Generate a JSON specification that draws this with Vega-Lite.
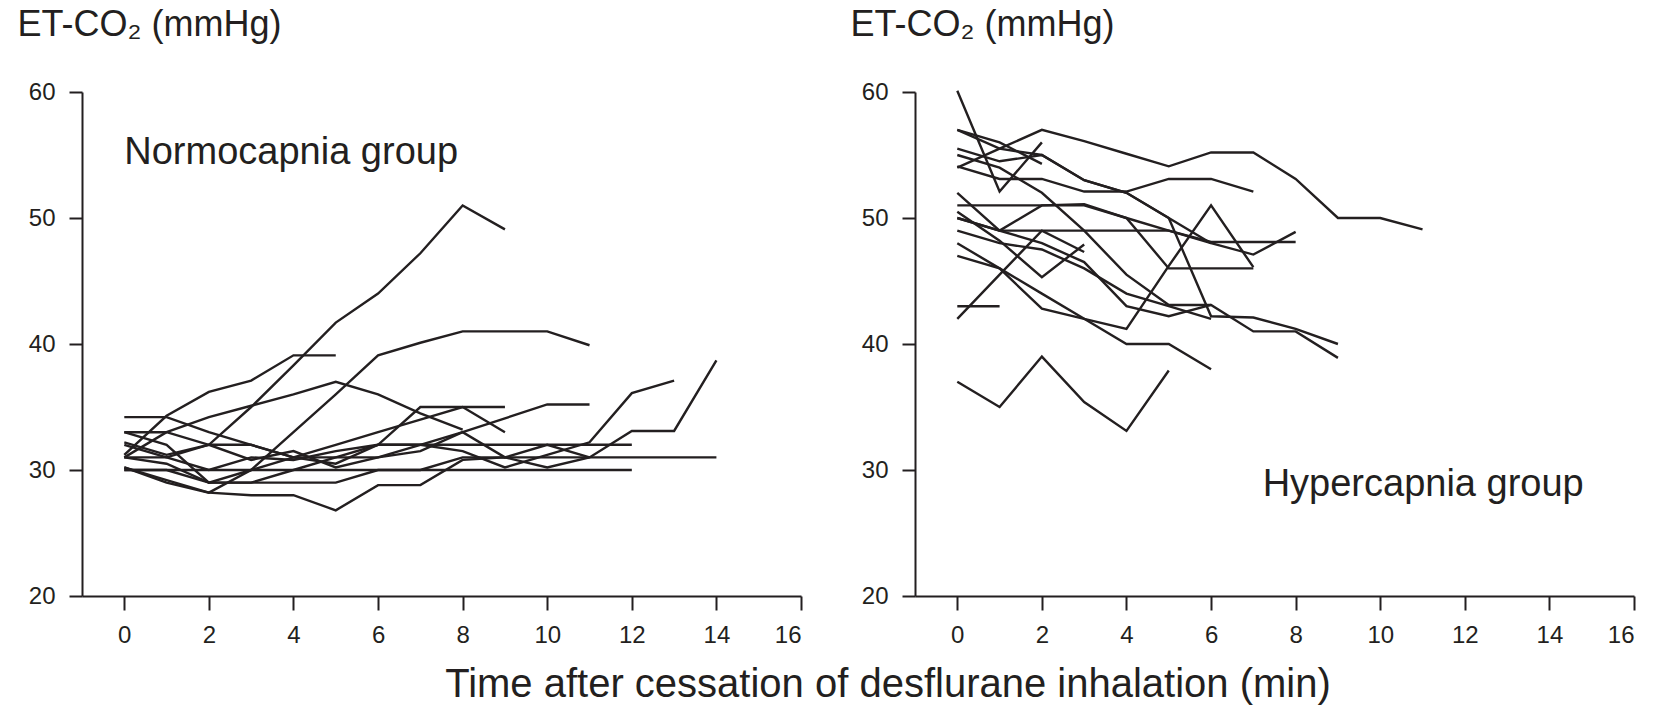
{
 "$schema": "https://vega.github.io/schema/vega-lite/v6.json",
 "background": "white",
 "padding": {"left": 17, "top": 6, "right": 20, "bottom": 5},
 "title": {"text": "Time after cessation of desflurane inhalation (min)", "orient": "bottom", "anchor": "middle", "fontSize": 40, "font": "Liberation Sans", "fontWeight": "normal", "color": "#231f20", "offset": 18, "dx": 62},
 "spacing": 114,
 "bounds": "flush",
 "config": {
  "view": {"stroke": null},
  "axis": {"grid": false, "domainColor": "#231f20", "domainWidth": 2, "tickColor": "#231f20", "tickWidth": 2, "labelFont": "Liberation Sans", "labelFontSize": 24, "labelColor": "#231f20", "titleFont": "Liberation Sans", "titleFontWeight": "normal", "titleColor": "#231f20"}
 },
 "datasets": {
  "labels": [
   {"g": "N", "t": 0, "v": 54.3, "label": "Normocapnia group"},
   {"g": "H", "t": 7.22, "v": 27.9, "label": "Hypercapnia group"}
  ],
  "lines": [
   {"g":"N","id":"N1","t":0,"v":31},{"g":"N","id":"N1","t":1,"v":31},{"g":"N","id":"N1","t":2,"v":32},{"g":"N","id":"N1","t":3,"v":35},{"g":"N","id":"N1","t":4,"v":38.3},{"g":"N","id":"N1","t":5,"v":41.7},{"g":"N","id":"N1","t":6,"v":44},{"g":"N","id":"N1","t":7,"v":47.2},{"g":"N","id":"N1","t":8,"v":51},{"g":"N","id":"N1","t":9,"v":49.1},
   {"g":"N","id":"N2","t":0,"v":30.2},{"g":"N","id":"N2","t":1,"v":29},{"g":"N","id":"N2","t":2,"v":28.2},{"g":"N","id":"N2","t":3,"v":30},{"g":"N","id":"N2","t":4,"v":33},{"g":"N","id":"N2","t":5,"v":36},{"g":"N","id":"N2","t":6,"v":39.1},{"g":"N","id":"N2","t":7,"v":40.1},{"g":"N","id":"N2","t":8,"v":41},{"g":"N","id":"N2","t":9,"v":41},{"g":"N","id":"N2","t":10,"v":41},{"g":"N","id":"N2","t":11,"v":39.9},
   {"g":"N","id":"N3","t":0,"v":31.2},{"g":"N","id":"N3","t":1,"v":34.3},{"g":"N","id":"N3","t":2,"v":36.2},{"g":"N","id":"N3","t":3,"v":37.1},{"g":"N","id":"N3","t":4,"v":39.1},{"g":"N","id":"N3","t":5,"v":39.1},
   {"g":"N","id":"N4","t":0,"v":30.2},{"g":"N","id":"N4","t":1,"v":29.2},{"g":"N","id":"N4","t":2,"v":28.2},{"g":"N","id":"N4","t":3,"v":28},{"g":"N","id":"N4","t":4,"v":28},{"g":"N","id":"N4","t":5,"v":26.8},{"g":"N","id":"N4","t":6,"v":28.8},{"g":"N","id":"N4","t":7,"v":28.8},{"g":"N","id":"N4","t":8,"v":30.8},{"g":"N","id":"N4","t":9,"v":31},{"g":"N","id":"N4","t":10,"v":30.2},{"g":"N","id":"N4","t":11,"v":31},{"g":"N","id":"N4","t":12,"v":33.1},{"g":"N","id":"N4","t":13,"v":33.1},{"g":"N","id":"N4","t":14,"v":38.7},
   {"g":"N","id":"N5","t":0,"v":31},{"g":"N","id":"N5","t":1,"v":30.5},{"g":"N","id":"N5","t":2,"v":29},{"g":"N","id":"N5","t":3,"v":29},{"g":"N","id":"N5","t":4,"v":30},{"g":"N","id":"N5","t":5,"v":31},{"g":"N","id":"N5","t":6,"v":32},{"g":"N","id":"N5","t":7,"v":32},{"g":"N","id":"N5","t":8,"v":31.5},{"g":"N","id":"N5","t":9,"v":30.2},{"g":"N","id":"N5","t":10,"v":31.2},{"g":"N","id":"N5","t":11,"v":32.2},{"g":"N","id":"N5","t":12,"v":36.1},{"g":"N","id":"N5","t":13,"v":37.1},
   {"g":"N","id":"N6","t":0,"v":33},{"g":"N","id":"N6","t":1,"v":33},{"g":"N","id":"N6","t":2,"v":32},{"g":"N","id":"N6","t":3,"v":32},{"g":"N","id":"N6","t":4,"v":31},{"g":"N","id":"N6","t":5,"v":31},{"g":"N","id":"N6","t":6,"v":31},{"g":"N","id":"N6","t":7,"v":32},{"g":"N","id":"N6","t":8,"v":33},{"g":"N","id":"N6","t":9,"v":34.1},{"g":"N","id":"N6","t":10,"v":35.2},{"g":"N","id":"N6","t":11,"v":35.2},
   {"g":"N","id":"N7","t":0,"v":34.2},{"g":"N","id":"N7","t":1,"v":34.2},{"g":"N","id":"N7","t":2,"v":33},{"g":"N","id":"N7","t":3,"v":32},{"g":"N","id":"N7","t":4,"v":31},{"g":"N","id":"N7","t":5,"v":30.5},{"g":"N","id":"N7","t":6,"v":32},{"g":"N","id":"N7","t":7,"v":35},{"g":"N","id":"N7","t":8,"v":35},{"g":"N","id":"N7","t":9,"v":35},
   {"g":"N","id":"N8","t":0,"v":32},{"g":"N","id":"N8","t":1,"v":31},{"g":"N","id":"N8","t":2,"v":30},{"g":"N","id":"N8","t":3,"v":31},{"g":"N","id":"N8","t":4,"v":30.8},{"g":"N","id":"N8","t":5,"v":31.5},{"g":"N","id":"N8","t":6,"v":32},{"g":"N","id":"N8","t":12,"v":32},
   {"g":"N","id":"N9","t":0,"v":30},{"g":"N","id":"N9","t":1,"v":30},{"g":"N","id":"N9","t":2,"v":29},{"g":"N","id":"N9","t":5,"v":29},{"g":"N","id":"N9","t":6,"v":30},{"g":"N","id":"N9","t":7,"v":30},{"g":"N","id":"N9","t":8,"v":31},{"g":"N","id":"N9","t":14,"v":31},
   {"g":"N","id":"N10","t":0,"v":30},{"g":"N","id":"N10","t":12,"v":30},
   {"g":"N","id":"N11","t":0,"v":31},{"g":"N","id":"N11","t":1,"v":33},{"g":"N","id":"N11","t":2,"v":34.2},{"g":"N","id":"N11","t":3,"v":35.1},{"g":"N","id":"N11","t":4,"v":36},{"g":"N","id":"N11","t":5,"v":37},{"g":"N","id":"N11","t":6,"v":36},{"g":"N","id":"N11","t":7,"v":34.5},{"g":"N","id":"N11","t":8,"v":33.2},
   {"g":"N","id":"N12","t":0,"v":33},{"g":"N","id":"N12","t":1,"v":32},{"g":"N","id":"N12","t":2,"v":29},{"g":"N","id":"N12","t":3,"v":30},{"g":"N","id":"N12","t":4,"v":31},{"g":"N","id":"N12","t":5,"v":32},{"g":"N","id":"N12","t":6,"v":33},{"g":"N","id":"N12","t":7,"v":34},{"g":"N","id":"N12","t":8,"v":35},{"g":"N","id":"N12","t":9,"v":33},
   {"g":"N","id":"N13","t":0,"v":32.2},{"g":"N","id":"N13","t":1,"v":31.2},{"g":"N","id":"N13","t":2,"v":32},{"g":"N","id":"N13","t":3,"v":30.8},{"g":"N","id":"N13","t":4,"v":31.5},{"g":"N","id":"N13","t":5,"v":30.2},{"g":"N","id":"N13","t":6,"v":31},{"g":"N","id":"N13","t":7,"v":31.5},{"g":"N","id":"N13","t":8,"v":33},{"g":"N","id":"N13","t":9,"v":31},{"g":"N","id":"N13","t":10,"v":32},{"g":"N","id":"N13","t":11,"v":31},
   {"g":"H","id":"H1","t":0,"v":54},{"g":"H","id":"H1","t":1,"v":55.5},{"g":"H","id":"H1","t":2,"v":57},{"g":"H","id":"H1","t":3,"v":56.1},{"g":"H","id":"H1","t":4,"v":55.1},{"g":"H","id":"H1","t":5,"v":54.1},{"g":"H","id":"H1","t":6,"v":55.2},{"g":"H","id":"H1","t":7,"v":55.2},{"g":"H","id":"H1","t":8,"v":53.1},{"g":"H","id":"H1","t":9,"v":50},{"g":"H","id":"H1","t":10,"v":50},{"g":"H","id":"H1","t":11,"v":49.1},
   {"g":"H","id":"H2","t":0,"v":54.1},{"g":"H","id":"H2","t":1,"v":53.1},{"g":"H","id":"H2","t":2,"v":53.1},{"g":"H","id":"H2","t":3,"v":52.1},{"g":"H","id":"H2","t":4,"v":52.1},{"g":"H","id":"H2","t":5,"v":53.1},{"g":"H","id":"H2","t":6,"v":53.1},{"g":"H","id":"H2","t":7,"v":52.1},
   {"g":"H","id":"H3","t":0,"v":60.1},{"g":"H","id":"H3","t":1,"v":52.1},{"g":"H","id":"H3","t":2,"v":56},
   {"g":"H","id":"H4","t":0,"v":57},{"g":"H","id":"H4","t":1,"v":56},{"g":"H","id":"H4","t":2,"v":54.3},
   {"g":"H","id":"H5","t":0,"v":57},{"g":"H","id":"H5","t":1,"v":55.5},{"g":"H","id":"H5","t":2,"v":55},{"g":"H","id":"H5","t":3,"v":53},{"g":"H","id":"H5","t":4,"v":52},{"g":"H","id":"H5","t":5,"v":50},{"g":"H","id":"H5","t":6,"v":42.2},{"g":"H","id":"H5","t":7,"v":42.1},{"g":"H","id":"H5","t":8,"v":41.2},{"g":"H","id":"H5","t":9,"v":40},
   {"g":"H","id":"H6","t":0,"v":55},{"g":"H","id":"H6","t":1,"v":54},{"g":"H","id":"H6","t":2,"v":52},{"g":"H","id":"H6","t":3,"v":49},{"g":"H","id":"H6","t":4,"v":45.5},{"g":"H","id":"H6","t":5,"v":43.1},{"g":"H","id":"H6","t":6,"v":43.1},{"g":"H","id":"H6","t":7,"v":41},{"g":"H","id":"H6","t":8,"v":41},{"g":"H","id":"H6","t":9,"v":38.9},
   {"g":"H","id":"H7","t":0,"v":47},{"g":"H","id":"H7","t":1,"v":46},{"g":"H","id":"H7","t":2,"v":42.8},{"g":"H","id":"H7","t":3,"v":42},{"g":"H","id":"H7","t":4,"v":41.2},{"g":"H","id":"H7","t":5,"v":46.2},{"g":"H","id":"H7","t":6,"v":51},{"g":"H","id":"H7","t":7,"v":46.1},
   {"g":"H","id":"H8","t":0,"v":43},{"g":"H","id":"H8","t":1,"v":43},
   {"g":"H","id":"H9","t":0,"v":37},{"g":"H","id":"H9","t":1,"v":35},{"g":"H","id":"H9","t":2,"v":39},{"g":"H","id":"H9","t":3,"v":35.4},{"g":"H","id":"H9","t":4,"v":33.1},{"g":"H","id":"H9","t":5,"v":37.9},
   {"g":"H","id":"H10","t":0,"v":48},{"g":"H","id":"H10","t":1,"v":46},{"g":"H","id":"H10","t":2,"v":44},{"g":"H","id":"H10","t":3,"v":42},{"g":"H","id":"H10","t":4,"v":40},{"g":"H","id":"H10","t":5,"v":40},{"g":"H","id":"H10","t":6,"v":38},
   {"g":"H","id":"H11","t":0,"v":51},{"g":"H","id":"H11","t":1,"v":51},{"g":"H","id":"H11","t":2,"v":51},{"g":"H","id":"H11","t":3,"v":51.1},{"g":"H","id":"H11","t":4,"v":50},{"g":"H","id":"H11","t":5,"v":46},{"g":"H","id":"H11","t":6,"v":46},{"g":"H","id":"H11","t":7,"v":46},
   {"g":"H","id":"H12","t":0,"v":50},{"g":"H","id":"H12","t":1,"v":49},{"g":"H","id":"H12","t":2,"v":49},{"g":"H","id":"H12","t":3,"v":49},{"g":"H","id":"H12","t":4,"v":49},{"g":"H","id":"H12","t":5,"v":49},{"g":"H","id":"H12","t":6,"v":48.1},{"g":"H","id":"H12","t":7,"v":48.1},{"g":"H","id":"H12","t":8,"v":48.1},
   {"g":"H","id":"H13","t":0,"v":52},{"g":"H","id":"H13","t":1,"v":49},{"g":"H","id":"H13","t":2,"v":48},{"g":"H","id":"H13","t":3,"v":46.5},{"g":"H","id":"H13","t":4,"v":43},{"g":"H","id":"H13","t":5,"v":42.2},{"g":"H","id":"H13","t":6,"v":43.1},
   {"g":"H","id":"H14","t":0,"v":49},{"g":"H","id":"H14","t":1,"v":48},{"g":"H","id":"H14","t":2,"v":47.5},{"g":"H","id":"H14","t":3,"v":46},{"g":"H","id":"H14","t":4,"v":44},{"g":"H","id":"H14","t":5,"v":43},{"g":"H","id":"H14","t":6,"v":42},
   {"g":"H","id":"H15","t":0,"v":50},{"g":"H","id":"H15","t":1,"v":49},{"g":"H","id":"H15","t":2,"v":51},{"g":"H","id":"H15","t":3,"v":51},{"g":"H","id":"H15","t":4,"v":50},{"g":"H","id":"H15","t":5,"v":49},{"g":"H","id":"H15","t":6,"v":48},{"g":"H","id":"H15","t":7,"v":47.1},{"g":"H","id":"H15","t":8,"v":48.9},
   {"g":"H","id":"H16","t":0,"v":42},{"g":"H","id":"H16","t":1,"v":45.5},{"g":"H","id":"H16","t":2,"v":49},{"g":"H","id":"H16","t":3,"v":47.3},
   {"g":"H","id":"H17","t":0,"v":55.5},{"g":"H","id":"H17","t":1,"v":54.5},{"g":"H","id":"H17","t":2,"v":55},{"g":"H","id":"H17","t":3,"v":53},{"g":"H","id":"H17","t":4,"v":52},{"g":"H","id":"H17","t":5,"v":50},{"g":"H","id":"H17","t":6,"v":48},
   {"g":"H","id":"H18","t":0,"v":50.5},{"g":"H","id":"H18","t":1,"v":48.2},{"g":"H","id":"H18","t":2,"v":45.3},{"g":"H","id":"H18","t":3,"v":47.9}
  ]
 },
 "hconcat": [
  {
   "width": 719, "height": 504,
   "layer": [
    {
     "data": {"name": "lines"},
     "transform": [{"filter": "datum.g === 'N'"}],
     "mark": {"type": "line", "color": "#231f20", "strokeWidth": 2.4},
     "encoding": {
      "x": {"field": "t", "type": "quantitative", "scale": {"domain": [-1, 16], "nice": false, "zero": false}, "axis": {"values": [0,2,4,6,8,10,12,14,16], "title": null, "tickSize": 14, "labelPadding": 13}},
      "y": {"field": "v", "type": "quantitative", "scale": {"domain": [20, 60], "nice": false, "zero": false}, "axis": {"values": [20,30,40,50,60], "title": "ET-CO₂ (mmHg)", "titleAngle": 0, "titleAlign": "left", "titleBaseline": "alphabetic", "titleX": -65, "titleY": -57, "titleFontSize": 36, "tickSize": 13, "labelPadding": 14}},
      "detail": {"field": "id"}
     }
    },
    {
     "data": {"name": "labels"},
     "transform": [{"filter": "datum.g === 'N'"}],
     "mark": {"type": "text", "align": "left", "baseline": "alphabetic", "fontSize": 38, "font": "Liberation Sans", "color": "#231f20"},
     "encoding": {
      "x": {"field": "t", "type": "quantitative"},
      "y": {"field": "v", "type": "quantitative"},
      "text": {"field": "label"}
     }
    }
   ]
  },
  {
   "width": 719, "height": 504,
   "layer": [
    {
     "data": {"name": "lines"},
     "transform": [{"filter": "datum.g === 'H'"}],
     "mark": {"type": "line", "color": "#231f20", "strokeWidth": 2.4},
     "encoding": {
      "x": {"field": "t", "type": "quantitative", "scale": {"domain": [-1, 16], "nice": false, "zero": false}, "axis": {"values": [0,2,4,6,8,10,12,14,16], "title": null, "tickSize": 14, "labelPadding": 13}},
      "y": {"field": "v", "type": "quantitative", "scale": {"domain": [20, 60], "nice": false, "zero": false}, "axis": {"values": [20,30,40,50,60], "title": "ET-CO₂ (mmHg)", "titleAngle": 0, "titleAlign": "left", "titleBaseline": "alphabetic", "titleX": -65, "titleY": -57, "titleFontSize": 36, "tickSize": 13, "labelPadding": 14}},
      "detail": {"field": "id"}
     }
    },
    {
     "data": {"name": "labels"},
     "transform": [{"filter": "datum.g === 'H'"}],
     "mark": {"type": "text", "align": "left", "baseline": "alphabetic", "fontSize": 38, "font": "Liberation Sans", "color": "#231f20"},
     "encoding": {
      "x": {"field": "t", "type": "quantitative"},
      "y": {"field": "v", "type": "quantitative"},
      "text": {"field": "label"}
     }
    }
   ]
  }
 ]
}
